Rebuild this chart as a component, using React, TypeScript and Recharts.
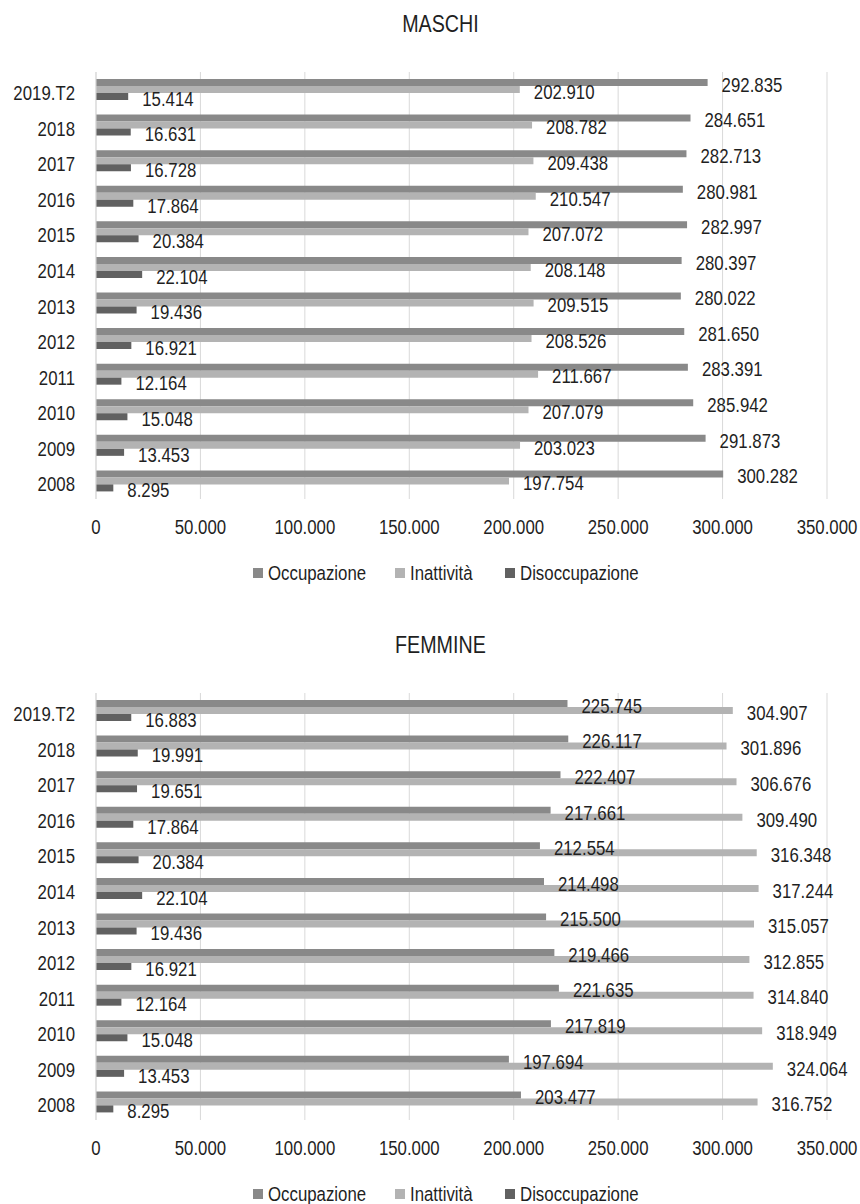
import React from "react";
import { BarChart, Bar, XAxis, YAxis, CartesianGrid, LabelList } from "recharts";

const categories = ["2019.T2", "2018", "2017", "2016", "2015", "2014", "2013", "2012", "2011", "2010", "2009", "2008"];

const maschiOccupazione = [292835, 284651, 282713, 280981, 282997, 280397, 280022, 281650, 283391, 285942, 291873, 300282];
const maschiInattivita = [202910, 208782, 209438, 210547, 207072, 208148, 209515, 208526, 211667, 207079, 203023, 197754];
const maschiDisoccupazione = [15414, 16631, 16728, 17864, 20384, 22104, 19436, 16921, 12164, 15048, 13453, 8295];

const femmineOccupazione = [225745, 226117, 222407, 217661, 212554, 214498, 215500, 219466, 221635, 217819, 197694, 203477];
const femmineInattivita = [304907, 301896, 306676, 309490, 316348, 317244, 315057, 312855, 314840, 318949, 324064, 316752];
const femmineDisoccupazione = [16883, 19991, 19651, 17864, 20384, 22104, 19436, 16921, 12164, 15048, 13453, 8295];

const xTicks = [0, 50000, 100000, 150000, 200000, 250000, 300000, 350000];

const seriesNames = ["Occupazione", "Inattività", "Disoccupazione"];
const seriesColors = ["#898989", "#b3b3b3", "#616161"];

// no Arial Narrow available: squeeze Liberation Sans horizontally
const FONT = "'Liberation Sans', Arial, sans-serif";
const SQUEEZE = 0.82;
const FS = 20.5;
const TEXT = "#1f1f1f";

// italian thousands separator, also for 4-digit numbers
const fmt = (v: number) => String(v).replace(/\B(?=(\d{3})+(?!\d))/g, ".");

function buildRows(occ: number[], ina: number[], dis: number[]) {
  return categories.map((name, i) => ({
    name,
    occupazione: occ[i],
    inattivita: ina[i],
    disoccupazione: dis[i],
  }));
}

function NarrowText({ x, y, anchor, dy, children }: any) {
  return (
    <text
      transform={`translate(${x},${y}) scale(${SQUEEZE},1)`}
      textAnchor={anchor}
      dy={dy}
      fill={TEXT}
      fontSize={FS}
      fontFamily={FONT}
    >
      {children}
    </text>
  );
}

const XTick = (p: any) => (
  <NarrowText x={p.x} y={p.y} anchor="middle" dy="0.71em">
    {fmt(p.payload.value)}
  </NarrowText>
);

const YTick = (p: any) => (
  <NarrowText x={p.x} y={p.y + 3} anchor="end" dy="0.355em">
    {p.payload.value}
  </NarrowText>
);

const BarLabel = (p: any) => (
  <NarrowText x={p.x + p.width + 14} y={p.y + p.height / 2 + 2} anchor="start" dy="0.355em">
    {fmt(Number(p.value))}
  </NarrowText>
);

const legendX = [253, 395, 505];

function Legend() {
  return (
    <div style={{ position: "absolute", left: 0, top: 565, width: 860, height: 16 }}>
      {seriesNames.map((n, i) => (
        <div key={n}>
          <span
            style={{
              position: "absolute",
              left: legendX[i],
              top: 3,
              width: 10,
              height: 10,
              background: seriesColors[i],
            }}
          />
          <span
            style={{
              position: "absolute",
              left: legendX[i] + 15,
              top: 0,
              fontFamily: FONT,
              fontSize: FS,
              lineHeight: "16px",
              color: TEXT,
              whiteSpace: "nowrap",
              transform: `scaleX(${SQUEEZE})`,
              transformOrigin: "0 0",
            }}
          >
            {n}
          </span>
        </div>
      ))}
    </div>
  );
}

function Panel({ title, top, rows }: { title: string; top: number; rows: any[] }) {
  const keys = ["occupazione", "inattivita", "disoccupazione"];
  return (
    <div style={{ position: "absolute", left: 0, top, width: 860, height: 600 }}>
      <div
        style={{
          position: "absolute",
          left: 0,
          width: 881,
          top: 10,
          textAlign: "center",
          fontFamily: FONT,
          fontSize: 24,
          color: TEXT,
          lineHeight: "28px",
          transform: `scaleX(${SQUEEZE})`,
          transformOrigin: "440px 0",
        }}
      >
        {title}
      </div>
      <BarChart
        width={860}
        height={540}
        data={rows}
        layout="vertical"
        margin={{ top: 72, right: 33, left: 0, bottom: 0 }}
        barSize={7}
        barGap={0}
      >
        <CartesianGrid horizontal={false} stroke="#d9d9d9" />
        <XAxis
          type="number"
          domain={[0, 350000]}
          ticks={xTicks}
          axisLine={false}
          tickLine={false}
          tickSize={0}
          tickMargin={20}
          height={41}
          interval={0}
          tick={XTick}
        />
        <YAxis
          type="category"
          dataKey="name"
          width={96}
          axisLine={{ stroke: "#d9d9d9" }}
          tickLine={false}
          tickSize={0}
          tickMargin={21}
          interval={0}
          tick={YTick}
        />
        {keys.map((k, i) => (
          <Bar key={k} dataKey={k} name={seriesNames[i]} fill={seriesColors[i]} isAnimationActive={false}>
            <LabelList dataKey={k} content={BarLabel} />
          </Bar>
        ))}
      </BarChart>
      <Legend />
    </div>
  );
}

export default function App() {
  return (
    <div style={{ position: "absolute", left: 0, top: 0, width: 860, height: 1204, background: "#fff" }}>
      <Panel title="MASCHI" top={0} rows={buildRows(maschiOccupazione, maschiInattivita, maschiDisoccupazione)} />
      <Panel title="FEMMINE" top={621} rows={buildRows(femmineOccupazione, femmineInattivita, femmineDisoccupazione)} />
    </div>
  );
}
